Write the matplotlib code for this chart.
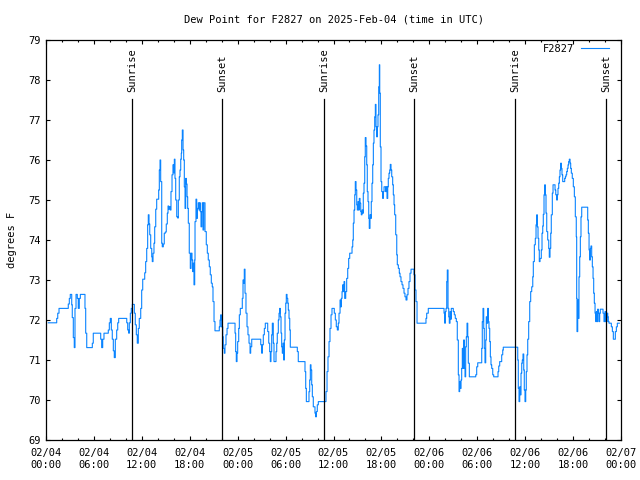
import matplotlib
matplotlib.use("Agg")
import matplotlib.pyplot as plt
from matplotlib.ticker import MultipleLocator, FixedLocator

# hours since 2025-02-04 00:00 UTC, dew point (deg F) -- step series
hours = [
    0.29, 1.34, 1.47, 1.63, 2.79, 2.92, 3.04, 3.22, 3.29, 3.42, 3.54, 3.63, 3.76, 3.92, 4.04, 4.17, 4.30,
    4.88, 4.97, 5.10, 5.80, 5.92, 6.85, 6.97, 7.10, 7.26, 7.80, 7.93, 8.05, 8.18, 8.30, 8.43, 8.55, 8.68,
    8.85, 8.98, 9.10, 10.11, 10.23, 10.36, 10.43, 10.56, 10.68, 10.81,
    11.06, 11.18, 11.31, 11.43, 11.56, 11.68, 11.86, 11.98, 12.11, 12.36, 12.48, 12.61, 12.73, 12.81,
    12.90, 12.99, 13.11, 13.24, 13.31, 13.40, 13.52, 13.61, 13.74, 13.86, 14.11, 14.19, 14.28, 14.36,
    14.49, 14.56, 14.69, 14.81, 14.94, 15.06, 15.19, 15.28, 15.36, 15.44, 15.56, 15.65, 15.78, 15.90,
    15.99, 16.07, 16.15, 16.24, 16.37, 16.49, 16.57, 16.69, 16.78, 16.87, 16.94, 16.99, 17.07, 17.16,
    17.24, 17.32, 17.41, 17.49, 17.57, 17.66, 17.74, 17.82, 17.94, 18.07, 18.16, 18.28, 18.37, 18.44,
    18.53, 18.62, 18.66, 18.78, 18.87, 18.95, 19.07, 19.16, 19.25, 19.32, 19.41, 19.50, 19.57, 19.66,
    19.75, 19.91, 20.07, 20.20, 20.32, 20.45, 20.57, 20.70, 20.82, 20.91, 21.04, 21.16, 21.70, 21.79,
    21.88, 21.95,
    22.13, 22.20, 22.33, 22.41, 22.54, 22.67, 22.79, 23.67, 23.75, 23.83, 23.92, 24.00, 24.13, 24.21,
    24.33, 24.58, 24.67, 24.76, 24.83, 24.92, 25.04, 25.17, 25.29, 25.42, 25.55, 25.63, 25.76, 26.89,
    27.01, 27.09, 27.21, 27.34, 27.46, 27.76, 27.89, 28.01, 28.09, 28.17, 28.26, 28.34, 28.46, 28.55,
    28.80, 28.89, 28.96, 29.09, 29.18, 29.26, 29.34, 29.43, 29.51, 29.59, 29.68, 29.77, 29.84, 29.93,
    30.02, 30.09, 30.18, 30.27, 30.34, 30.43, 30.52, 30.59, 31.47, 31.59, 32.43, 32.52, 32.60, 32.93,
    33.02, 33.10, 33.18, 33.27, 33.35, 33.47, 33.68, 33.77, 33.85, 33.97, 34.10, 35.06, 35.19, 35.31,
    35.44,
    35.56, 35.69, 35.81, 36.10, 36.23, 36.35, 36.48, 36.60, 36.69, 36.82, 36.90, 36.98, 37.07, 37.15,
    37.23, 37.32, 37.40, 37.53, 37.65, 37.78, 37.90, 38.03, 38.32, 38.41, 38.48, 38.57, 38.66, 38.73,
    38.82, 38.91, 38.98, 39.07, 39.16, 39.23, 39.32, 39.41, 39.48, 39.57, 39.66, 39.73, 39.82, 39.91,
    39.98, 40.07, 40.16, 40.23, 40.32, 40.41, 40.48, 40.57, 40.66, 40.73, 40.82, 40.91, 40.99, 41.07,
    41.16, 41.24, 41.32, 41.41, 41.49, 41.57, 41.66, 41.74, 41.79, 41.86, 41.95, 42.04, 42.16, 42.24,
    42.33, 42.54, 42.61, 42.70, 42.79, 42.86, 42.95, 43.04, 43.11, 43.20, 43.29, 43.41, 43.49, 43.58,
    43.66, 43.79, 43.92, 43.99, 44.12, 44.24, 44.33, 44.45, 44.58, 44.70, 44.83, 44.95, 45.08, 45.20,
    45.33, 45.45, 45.58, 45.71, 46.08, 46.21, 46.33, 46.46, 47.58, 47.67, 47.87,
    49.84, 49.93, 50.00, 50.09, 50.18, 50.25, 50.34, 50.43, 50.50, 50.59, 50.68, 50.75, 51.00, 51.13,
    51.25, 51.38, 51.50, 51.63, 51.72, 51.80, 51.88, 51.97, 52.05, 52.13, 52.22, 52.30, 52.38, 52.47,
    52.55, 52.63, 52.72, 52.81, 52.88, 53.01, 53.81, 53.93, 54.06, 54.56, 54.63, 54.72, 54.81, 54.88,
    54.97, 55.06, 55.13, 55.22, 55.31, 55.39, 55.47, 55.56, 55.64, 55.72, 55.81, 55.94, 56.06, 56.60,
    56.69, 56.81, 57.06, 57.19, 57.26,
    59.07, 59.14, 59.23, 59.32, 59.39, 59.48, 59.57, 59.64, 59.73, 59.82, 59.89, 59.98, 60.07, 60.14,
    60.23, 60.32, 60.44, 60.57, 60.69, 60.82, 60.95, 61.02, 61.15, 61.27, 61.36, 61.45, 61.52, 61.61,
    61.70, 61.77, 61.86, 62.02, 62.11, 62.20, 62.27, 62.36, 62.45, 62.52, 62.61, 62.70, 62.82, 62.95,
    63.02, 63.11, 63.20, 63.27, 63.40, 63.49, 63.74, 63.83, 63.95, 64.03, 64.11, 64.20, 64.28, 64.36,
    64.45, 64.53, 64.61, 64.70, 64.95, 65.03, 65.11, 65.20, 65.28, 65.37, 65.45, 65.53, 65.62, 65.70,
    65.78, 65.90, 66.03, 66.16, 66.28, 66.40, 66.45, 66.49, 66.58, 66.66, 66.74, 66.83, 66.91, 66.99,
    67.08, 67.83, 67.91, 68.00, 68.08, 68.16, 68.24, 68.33, 68.41, 68.50, 68.58, 68.66, 68.75, 68.84,
    68.91, 69.00, 69.08, 69.16, 69.25, 69.33, 69.41, 69.75, 69.87, 70.00, 70.09, 70.25, 70.34, 70.41,
    70.50, 70.79, 70.92, 71.04, 71.29, 71.42, 71.54, 71.79,
]
dewpoint = [
    71.93, 72.04, 72.17, 72.29, 72.40, 72.54, 72.64, 72.38, 72.06, 71.56, 71.31, 72.29, 72.64, 72.54, 72.29, 72.54, 72.64,
    72.29, 71.67, 71.31, 71.42, 71.67, 71.52, 71.31, 71.52, 71.67, 71.75, 71.93, 72.04, 71.75, 71.52, 71.23, 71.06, 71.52,
    71.75, 71.93, 72.04, 71.93, 71.75, 71.67, 71.93, 72.17, 72.29, 72.39,
    72.17, 71.88, 71.63, 71.42, 71.79, 72.04, 72.29, 72.75, 73.02, 73.18, 73.46, 73.79, 74.38, 74.63,
    74.40, 74.13, 73.79, 73.58, 73.46, 73.67, 73.92, 74.33, 74.77, 75.02, 75.25, 75.75, 76.00, 75.46,
    73.92, 73.83, 73.90, 74.17, 74.20, 74.40, 74.67, 74.85, 74.77, 74.83, 74.75, 75.21, 75.63, 75.88,
    75.68, 76.02, 75.54, 75.00, 74.58, 74.55, 75.00, 75.58, 75.75, 76.02, 76.17, 76.50, 76.75, 76.25,
    76.00, 75.33, 74.79, 75.54, 75.40, 75.08, 74.79, 74.42, 73.67, 73.29, 73.67, 73.50, 73.21, 73.42,
    72.88, 73.50, 74.46, 75.02, 74.54, 74.79, 74.93, 74.75, 74.93, 74.71, 74.33, 74.71, 74.93, 74.25,
    74.93, 74.21, 73.88, 73.67, 73.50, 73.33, 73.13, 72.92, 72.83, 72.46, 71.96, 71.73, 71.83, 72.00,
    72.13, 71.83,
    71.58, 71.29, 71.17, 71.38, 71.63, 71.79, 71.92, 71.67, 71.21, 70.96, 71.17, 71.46, 71.79, 72.13,
    72.29, 72.54, 73.00, 72.92, 73.27, 72.67, 72.17, 71.83, 71.63, 71.42, 71.17, 71.33, 71.52, 71.38,
    71.17, 71.38, 71.63, 71.79, 71.92, 71.71, 71.42, 71.21, 70.96, 71.21, 71.63, 71.92, 71.42, 70.96,
    71.21, 71.42, 71.67, 72.00, 72.17, 72.29, 72.08, 71.67, 71.33, 71.17, 71.42, 71.00, 71.50, 72.17,
    72.42, 72.64, 72.54, 72.42, 72.25, 72.04, 71.75, 71.32, 71.21, 70.96, 70.71, 70.29, 69.96, 70.21,
    70.50, 70.88, 70.75, 70.38, 70.08, 69.83, 69.67, 69.58, 69.71, 69.88, 69.96, 70.21, 70.71, 71.08,
    71.46,
    71.79, 72.13, 72.29, 72.17, 72.00, 71.83, 71.75, 71.92, 72.17, 72.50, 72.33, 72.54, 72.71, 72.88,
    72.71, 72.96, 72.54, 72.71, 73.04, 73.29, 73.54, 73.67, 73.83, 74.00, 74.42, 74.75, 75.13, 75.46,
    75.25, 74.88, 74.75, 74.96, 74.75, 75.04, 74.92, 74.71, 74.63, 74.75, 74.67, 75.17, 75.42, 76.08,
    76.56, 76.35, 75.88, 75.21, 74.96, 74.54, 74.29, 74.63, 74.54, 74.96, 75.42, 75.88, 76.42, 76.75,
    77.08, 77.39, 76.83, 76.58, 76.83, 77.13, 77.83, 78.38, 77.67, 76.33, 75.46, 75.21, 75.04, 75.21,
    75.33, 75.21, 75.33, 75.04, 75.33, 75.54, 75.67, 75.75, 75.89, 75.75, 75.58, 75.38, 75.13, 74.88,
    74.63, 74.13, 73.63, 73.38, 73.29, 73.17, 73.08, 72.96, 72.88, 72.79, 72.67, 72.58, 72.50, 72.63,
    72.79, 72.96, 73.17, 73.27, 73.13, 72.75, 72.46, 71.92, 72.04, 72.17, 72.29,
    72.17, 71.92, 72.21, 72.29, 72.96, 73.25, 72.29, 72.08, 71.92, 72.21, 72.02, 72.29, 72.21, 72.13,
    72.04, 71.96, 71.50, 70.63, 70.21, 70.46, 70.29, 70.50, 70.79, 71.29, 70.79, 71.50, 70.79, 70.58,
    71.33, 71.58, 71.92, 71.58, 70.92, 70.58, 70.63, 70.83, 70.93, 71.29, 71.96, 72.29, 71.79, 71.29,
    70.93, 71.50, 72.08, 71.92, 72.29, 71.96, 71.79, 71.46, 71.08, 70.88, 70.79, 70.63, 70.58, 70.71,
    70.85, 70.96, 71.13, 71.25, 71.32,
    71.00, 70.29, 69.96, 70.33, 70.13, 70.67, 70.92, 71.00, 71.15, 70.75, 70.25, 69.96, 70.25, 70.71,
    71.13, 71.52, 71.96, 72.46, 72.71, 72.83, 73.08, 73.46, 73.88, 74.04, 74.38, 74.63, 74.33, 74.04,
    73.75, 73.46, 73.54, 73.75, 74.17, 74.35, 74.64, 75.13, 75.38, 75.13, 74.67, 74.21, 74.00, 73.79,
    73.57, 73.79, 74.17, 74.63, 75.17, 75.38, 75.25, 75.13, 75.00, 75.13, 75.29, 75.42, 75.58, 75.75,
    75.92, 75.79, 75.63, 75.46, 75.54, 75.58, 75.63, 75.71, 75.79, 75.88, 75.96, 76.02, 75.92, 75.79,
    75.67, 75.54, 75.33, 75.08, 74.58, 74.08, 72.54, 71.71, 72.50, 72.04, 73.08, 73.58, 74.08, 74.58,
    74.82, 74.50, 74.17, 73.75, 73.50, 73.79, 73.85, 73.58, 73.33, 73.04, 72.67, 72.42, 72.17, 71.96,
    72.21, 71.96, 72.27, 72.17, 71.96, 72.17, 72.27, 72.17, 71.96, 72.21, 71.96, 72.17, 72.08, 71.96,
    71.92, 71.83, 71.71, 71.52, 71.71, 71.83, 71.92, 71.92,
]

sunrise_hours = [10.81, 34.85, 58.77]
sunset_hours = [22.08, 46.12, 70.16]

xtick_hours = [0, 6, 12, 18, 24, 30, 36, 42, 48, 54, 60, 66, 72]
xtick_labels = ["02/04\n00:00", "02/04\n06:00", "02/04\n12:00", "02/04\n18:00",
                "02/05\n00:00", "02/05\n06:00", "02/05\n12:00", "02/05\n18:00",
                "02/06\n00:00", "02/06\n06:00", "02/06\n12:00", "02/06\n18:00",
                "02/07\n00:00"]
yticks = [69, 70, 71, 72, 73, 74, 75, 76, 77, 78, 79]

title = "Dew Point for F2827 on 2025-Feb-04 (time in UTC)"
ylabel = "degrees F"
series_name = "F2827"

FONT = "DejaVu Sans Mono"
FS = 7.5
plt.rcParams["font.family"] = FONT
plt.rcParams["font.size"] = FS

fig = plt.figure(figsize=(6.4, 4.8), dpi=100)
ax = fig.add_axes([46 / 640, 40 / 480, 575 / 640, 400 / 480])

ax.plot(hours, dewpoint, drawstyle="steps-post", color="#0a84ff", lw=0.8, label=series_name)

line_top = 0.8525
for h in sunrise_hours:
    ax.axvline(h, ymin=0, ymax=line_top, color="black", lw=0.9)
    ax.text(h, 0.87, "Sunrise", transform=ax.get_xaxis_transform(), rotation=90,
            ha="center", va="bottom", fontsize=FS)
for h in sunset_hours:
    ax.axvline(h, ymin=0, ymax=line_top, color="black", lw=0.9)
    ax.text(h, 0.87, "Sunset", transform=ax.get_xaxis_transform(), rotation=90,
            ha="center", va="bottom", fontsize=FS)

ax.set_xlim(0, 72)
ax.set_ylim(69, 79)
ax.xaxis.set_major_locator(FixedLocator(xtick_hours))
ax.set_xticklabels(xtick_labels)
ax.xaxis.set_minor_locator(MultipleLocator(2))
ax.set_yticks(yticks)
ax.set_yticklabels([str(v) for v in yticks])

ax.tick_params(axis="both", which="major", direction="in", length=3.2, width=0.8,
               top=True, right=True, labelsize=FS)
ax.tick_params(axis="x", which="major", pad=6)
ax.tick_params(axis="y", which="major", pad=4)
ax.tick_params(axis="x", which="minor", direction="in", length=1.6, width=0.8, top=True)
for s in ax.spines.values():
    s.set_linewidth(0.9)

ax.set_title(title, fontsize=FS, pad=12.5)
ax.set_ylabel(ylabel, fontsize=FS, labelpad=8)

leg = ax.legend(loc="center right", bbox_to_anchor=(0.9797, 0.9775), frameon=False,
                markerfirst=False, handlelength=2.72, handletextpad=0.64,
                borderpad=0, borderaxespad=0, fontsize=FS)

fig.savefig("out.png", dpi=100)
